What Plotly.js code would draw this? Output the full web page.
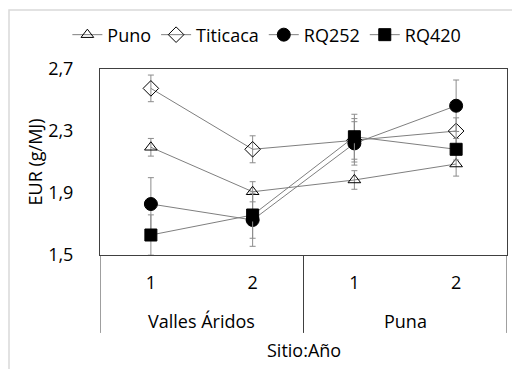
<!DOCTYPE html>
<html>
<head>
<meta charset="utf-8">
<script src="https://cdn.plot.ly/plotly-3.0.1.min.js"></script>
<style>html,body{margin:0;padding:0;background:#fff;}#chart{width:512px;height:369px;}</style>
</head>
<body>
<div id="chart"></div>
<script>
// Data
var sitios = ["Valles Áridos", "Valles Áridos", "Puna", "Puna"];
var anios = ["1", "2", "1", "2"];
var seriesNames = ["Puno", "Titicaca", "RQ252", "RQ420"];
var puno = [2.195, 1.908, 1.984, 2.087];
var punoErr = [0.057, 0.065, 0.06, 0.078];
var titicaca = [2.575, 2.182, 2.24, 2.30];
var titicacaErr = [0.086, 0.087, 0.14, 0.085];
var rq252 = [1.829, 1.726, 2.22, 2.463];
var rq252Err = [0.17, 0.17, 0.14, 0.166];
var rq420 = [1.629, 1.758, 2.263, 2.182];
var rq420Err = [0.13, 0.15, 0.145, 0.07];
var yTicks = [1.5, 1.9, 2.3, 2.7];

var FONT = "'Open Sans', sans-serif";
var lineColor = "#7f7f7f";
var axisColor = "#404040";

var styles = [
  {symbol: "triangle-up-open", size: 11},
  {symbol: "diamond-open", size: 12},
  {symbol: "circle", size: 13},
  {symbol: "square", size: 12}
];
var vals = [puno, titicaca, rq252, rq420];
var errs = [punoErr, titicacaErr, rq252Err, rq420Err];
var xIdx = anios.map(function (_, i) { return i; });

var traces = seriesNames.map(function (name, i) {
  return {
    type: "scatter",
    mode: "lines+markers",
    name: name,
    x: xIdx,
    y: vals[i],
    line: {color: lineColor, width: 1},
    marker: {symbol: styles[i].symbol, size: styles[i].size, color: "#000",
             line: {color: "#000", width: 1}},
    error_y: {type: "data", array: errs[i], visible: true, color: "#8c8c8c", thickness: 1, width: 3}
  };
});

// group labels and dividers derived from the category arrays
var groups = [];
sitios.forEach(function (s, i) {
  var g = groups[groups.length - 1];
  if (!g || g.name !== s) groups.push({name: s, start: i, end: i});
  else g.end = i;
});
var annotations = groups.map(function (g) {
  return {text: g.name, xref: "x", yref: "paper", x: (g.start + g.end) / 2, y: -0.355,
          xanchor: "center", yanchor: "middle", showarrow: false,
          font: {family: FONT, size: 18, color: "#000"}};
});
annotations.push({text: "Sitio:Año", xref: "paper", yref: "paper", x: 0.5, y: -0.51,
                  xanchor: "center", yanchor: "middle", showarrow: false,
                  font: {family: FONT, size: 18, color: "#000"}});

var shapes = [];
var bounds = [groups[0].start - 0.5].concat(groups.map(function (g) { return g.end + 0.5; }));
bounds.forEach(function (b) {
  shapes.push({type: "line", xref: "x", yref: "paper", x0: b, x1: b, y0: 0, y1: -0.419,
               line: {color: axisColor, width: 1}});
});
shapes.push({type: "path", xref: "paper", yref: "paper",
             path: "M -0.2236,-0.62 L -0.2236,1.317 L 1.02,1.317",
             line: {color: "#d9d9d9", width: 1.5}});

var layout = {
  width: 512, height: 369,
  margin: {l: 100, r: 5, t: 69, b: 114},
  paper_bgcolor: "#fff", plot_bgcolor: "#fff",
  separators: ",.",
  font: {family: FONT, size: 18, color: "#000"},
  showlegend: true,
  legend: {orientation: "h", x: 0.41, xanchor: "center", y: 1.183, yanchor: "middle",
           font: {family: FONT, size: 18, color: "#000"}, itemwidth: 30, tracegroupgap: 0},
  xaxis: {
    range: [-0.5, 3.5], tickvals: xIdx, ticktext: anios,
    showline: true, linecolor: axisColor, linewidth: 1, mirror: true,
    showgrid: false, zeroline: false, ticks: "", ticklabelstandoff: 11,
    tickfont: {family: FONT, size: 18, color: "#000"}
  },
  yaxis: {
    range: [1.5, 2.7], tickvals: yTicks, tickformat: ".1f",
    showline: true, linecolor: axisColor, linewidth: 1, mirror: true,
    showgrid: false, zeroline: false, ticks: "", ticklabelstandoff: 22,
    tickfont: {family: FONT, size: 18, color: "#000"},
    title: {text: "EUR (g/MJ)", standoff: 0, font: {family: FONT, size: 18, color: "#000"}}
  },
  annotations: annotations,
  shapes: shapes
};

Plotly.newPlot("chart", traces, layout, {displayModeBar: false, staticPlot: true});
</script>
</body>
</html>
